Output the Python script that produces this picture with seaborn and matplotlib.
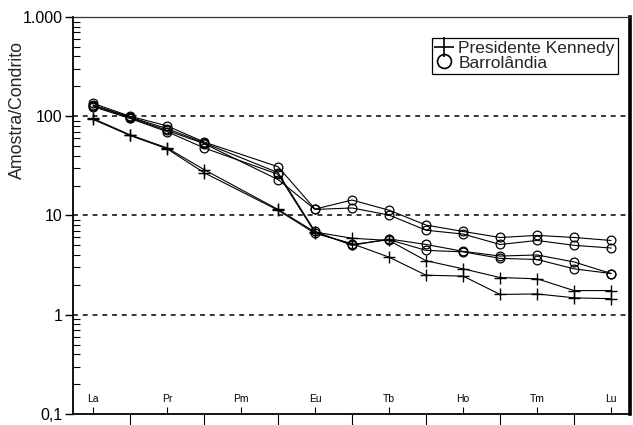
import matplotlib
matplotlib.use("Agg")
import matplotlib.pyplot as plt
from matplotlib.lines import Line2D
from matplotlib.ticker import FixedLocator, FixedFormatter, LogLocator, NullFormatter
import numpy as np
import pandas as pd
import seaborn as sns

# Rare earth elements in order (Pm has no analyses)
elements = ["La", "Ce", "Pr", "Nd", "Pm", "Sm", "Eu", "Gd", "Tb", "Dy",
            "Ho", "Er", "Tm", "Yb", "Lu"]
measured = ["La", "Ce", "Pr", "Nd", "Sm", "Eu", "Gd", "Tb", "Dy",
            "Ho", "Er", "Tm", "Yb", "Lu"]

# Chondrite-normalised values, Presidente Kennedy
pk_1 = [95, 65, 48, 29, 11.5, 6.8, 5.9, 5.6, 3.5, 2.9, 2.37, 2.3, 1.75, 1.75]
pk_2 = [93, 64, 47, 27, 11.3, 6.6, 5.2, 3.8, 2.5, 2.45, 1.6, 1.62, 1.48, 1.45]

# Chondrite-normalised values, Barrolândia
ba_1 = [135, 100, 80, 55, 31, 11.6, 14.3, 11.3, 8.0, 6.9, 6.0, 6.3, 6.0, 5.6]
ba_2 = [128, 97, 72, 53, 23, 11.5, 11.9, 10.1, 7.1, 6.5, 5.1, 5.6, 5.0, 4.7]
ba_3 = [130, 98, 75, 54, 27, 6.9, 5.0, 5.8, 5.1, 4.35, 3.9, 4.0, 3.4, 2.6]
ba_4 = [125, 95, 70, 48, 26, 6.7, 5.1, 5.7, 4.45, 4.3, 3.7, 3.6, 2.9, 2.6]

y_ticks = [0.1, 1, 10, 100, 1000]
y_tick_labels = ["0,1", "1", "10", "100", "1.000"]
grid_levels = [1, 10, 100]

groups = {
    "Presidente Kennedy": {"PK-1": pk_1, "PK-2": pk_2},
    "Barrolândia": {"BA-1": ba_1, "BA-2": ba_2, "BA-3": ba_3, "BA-4": ba_4},
}

rows = []
for group, samples in groups.items():
    for sample, values in samples.items():
        for el, v in zip(measured, values):
            rows.append({"group": group, "sample": sample,
                         "pos": elements.index(el), "value": v})
df = pd.DataFrame(rows)

sns.set_style("ticks")
plt.rcParams["font.family"] = ["Liberation Sans", "DejaVu Sans"]

fig = plt.figure(figsize=(6.33, 4.25), dpi=100)
ax = fig.add_axes([0.1153, 0.026, 0.88, 0.934])

marker_kw = {
    "Presidente Kennedy": dict(marker="+", markersize=9, markeredgewidth=1.0),
    "Barrolândia": dict(marker="o", markersize=6.3, markerfacecolor="none",
                        markeredgewidth=0.9),
}

for (group, sample), sub in df.groupby(["group", "sample"], sort=False):
    sns.lineplot(data=sub, x="pos", y="value", ax=ax, color="black",
                 linewidth=0.8, markeredgecolor="black",
                 estimator=None, sort=False, legend=False,
                 **marker_kw[group])

for lvl in grid_levels:
    ax.axhline(lvl, color="black", linewidth=1.1, linestyle=(0, (3.2, 3.2)),
               zorder=0)

ax.set_yscale("log")
ax.set_ylim(0.1, 1000)
ax.set_xlim(-0.54, 14.51)

ax.yaxis.set_major_locator(FixedLocator(y_ticks))
ax.yaxis.set_major_formatter(FixedFormatter(y_tick_labels))
ax.yaxis.set_minor_locator(LogLocator(base=10, subs=np.arange(2, 10)))
ax.yaxis.set_minor_formatter(NullFormatter())
ax.tick_params(axis="y", which="major", direction="out", length=6,
               width=1.0, labelsize=11.5, pad=1.5, colors="black")
ax.tick_params(axis="y", which="minor", direction="in", length=5,
               width=0.8, colors="black")

# labelled elements: ticks pointing inward, labels inside the frame
odd_pos = list(range(0, len(elements), 2))
even_pos = list(range(1, len(elements), 2))
ax.xaxis.set_major_locator(FixedLocator(odd_pos))
ax.xaxis.set_major_formatter(FixedFormatter([elements[i] for i in odd_pos]))
ax.xaxis.set_minor_locator(FixedLocator(even_pos))
ax.tick_params(axis="x", which="major", direction="in", length=5,
               width=0.8, labelsize=7.5, pad=-14.5, colors="black")
ax.tick_params(axis="x", which="minor", direction="out", length=9,
               width=0.8, colors="black")

ax.set_xlabel("")
ax.set_ylabel("Amostra/Condrito", fontsize=12.8)
ax.yaxis.set_label_coords(-0.084, 0.766)

for side in ["left", "bottom"]:
    ax.spines[side].set_linewidth(1.3)
    ax.spines[side].set_color("black")
ax.spines["top"].set_visible(True)
ax.spines["top"].set_linewidth(0.9)
ax.spines["top"].set_color("#333333")
ax.spines["right"].set_visible(True)
ax.spines["right"].set_linewidth(2.6)
ax.spines["right"].set_color("black")

handles = [
    Line2D([], [], color="black", linestyle="none", marker="+",
           markersize=14, markeredgewidth=1.2),
    Line2D([], [], color="black", linestyle="none", marker="o",
           markersize=10, markerfacecolor="none", markeredgewidth=1.2),
]
leg = ax.legend(handles, list(groups.keys()), loc="upper right",
                bbox_to_anchor=(0.9785, 0.948), fontsize=12.5,
                frameon=True, fancybox=False, edgecolor="black",
                framealpha=1, borderpad=0.2, handletextpad=0.3,
                labelspacing=-0.05, handlelength=1.0, borderaxespad=0)
leg.get_frame().set_linewidth(0.9)

fig.savefig("out.png", dpi=100)
